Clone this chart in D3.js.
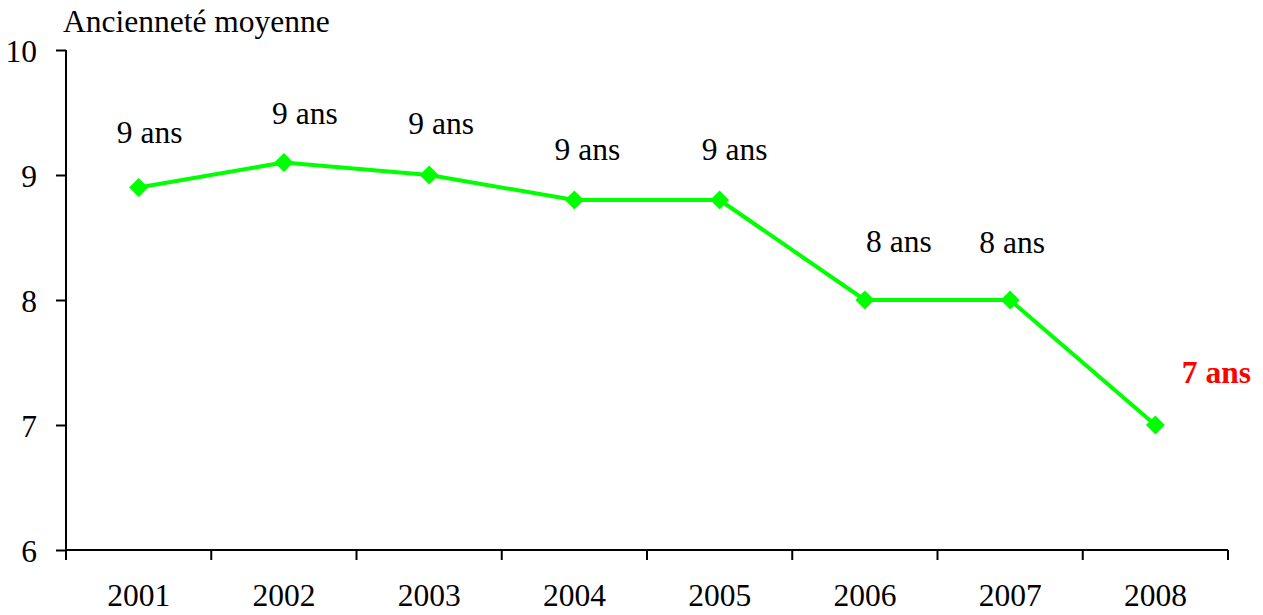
<!DOCTYPE html>
<html>
<head>
<meta charset="utf-8">
<script src="https://cdn.jsdelivr.net/npm/d3@7"></script>
<style>
  html, body { margin: 0; padding: 0; background: #fff; }
  svg { display: block; }
  svg text { font-family: "Liberation Serif", "Times New Roman", serif !important; }
</style>
</head>
<body>
<svg id="chart" width="1263" height="615"></svg>
<script>
(function () {
// ---- data ----
const years = ["2001", "2002", "2003", "2004", "2005", "2006", "2007", "2008"];
const anciennete = [8.9, 9.1, 9.0, 8.8, 8.8, 8.0, 8.0, 7.0];
const yTicks = [6, 7, 8, 9, 10];
const yTitle = "Ancienneté moyenne";
const labelSuffix = " ans";

// ---- layout (label offsets relative to the point, in px) ----
const labelDx = [11, 21, 12, 13, 15, 34, 2, 61];
const labelDy = [-45, -39, -41, -40, -40, -48, -47, -42];
const highlightIndex = 7;

const FONT = '"Liberation Serif", "Times New Roman", serif';
const svg = d3.select("#chart");
const mLeft = 66, mRight = 1228, mTop = 50, mBottom = 550;
const fontSize = 31.5;

const x = d3.scaleBand().domain(years).range([mLeft, mRight]).padding(0);
const y = d3.scaleLinear().domain([6, 10]).range([mBottom, mTop]);

// y axis
const yAxis = svg.append("g")
  .attr("transform", `translate(${mLeft},0)`)
  .call(d3.axisLeft(y).tickValues(yTicks).tickFormat(d3.format("d")).tickSize(10).tickPadding(19));
yAxis.attr("font-family", null).attr("font-size", null);
yAxis.select(".domain").attr("stroke", "#000").attr("stroke-width", 2).attr("d", `M0,${mTop}V${mBottom}`);
yAxis.selectAll(".tick line").attr("stroke", "#000").attr("stroke-width", 2);
yAxis.selectAll(".tick text").style("font-size", fontSize + "px").attr("fill", "#000")
  .style("font-family", FONT).attr("dy", "0.35em");

// x axis
const xAxis = svg.append("g")
  .attr("transform", `translate(0,${mBottom})`)
  .call(d3.axisBottom(x).tickSize(0).tickPadding(34));
xAxis.attr("font-family", null).attr("font-size", null);
xAxis.select(".domain").attr("stroke", "#000").attr("stroke-width", 2).attr("d", `M${mLeft},0H${mRight}`);
xAxis.selectAll(".tick text").style("font-size", fontSize + "px").attr("fill", "#000")
  .style("font-family", FONT).attr("dy", "0.71em");
// boundary tick marks
const bounds = years.map(d => x(d)).concat([x(years[years.length - 1]) + x.step()]);
xAxis.selectAll(".btick").data(bounds).enter().append("line")
  .attr("class", "btick")
  .attr("x1", d => d).attr("x2", d => d)
  .attr("y1", 0).attr("y2", 10)
  .attr("stroke", "#000").attr("stroke-width", 2);

// title
svg.append("text")
  .attr("x", 63).attr("y", 32)
  .style("font-size", fontSize + "px")
  .style("font-family", FONT)
  .attr("fill", "#000")
  .text(yTitle);

// line
const cx = (d, i) => x(years[i]) + x.bandwidth() / 2;
const line = d3.line().x((d, i) => cx(d, i)).y(d => y(d));
svg.append("path")
  .datum(anciennete)
  .attr("d", line)
  .attr("fill", "none")
  .attr("stroke", "#00ff00")
  .attr("stroke-width", 4)
  .attr("stroke-linejoin", "round");

// markers (diamonds)
const r = 9.5;
svg.selectAll(".marker").data(anciennete).enter().append("path")
  .attr("class", "marker")
  .attr("d", (d, i) => {
    const px = cx(d, i), py = y(d);
    return `M${px},${py - r}L${px + r},${py}L${px},${py + r}L${px - r},${py}Z`;
  })
  .attr("fill", "#00ff00");

// data labels
svg.selectAll(".dlabel").data(anciennete).enter().append("text")
  .attr("class", "dlabel")
  .attr("x", (d, i) => cx(d, i) + labelDx[i])
  .attr("y", (d, i) => y(d) + labelDy[i])
  .attr("text-anchor", "middle")
  .style("font-size", fontSize + "px")
  .style("font-family", FONT)
  .style("font-weight", (d, i) => i === highlightIndex ? "bold" : "normal")
  .attr("fill", (d, i) => i === highlightIndex ? "#ff0000" : "#000")
  .text(d => Math.round(d) + labelSuffix);
})();
</script>
</body>
</html>
